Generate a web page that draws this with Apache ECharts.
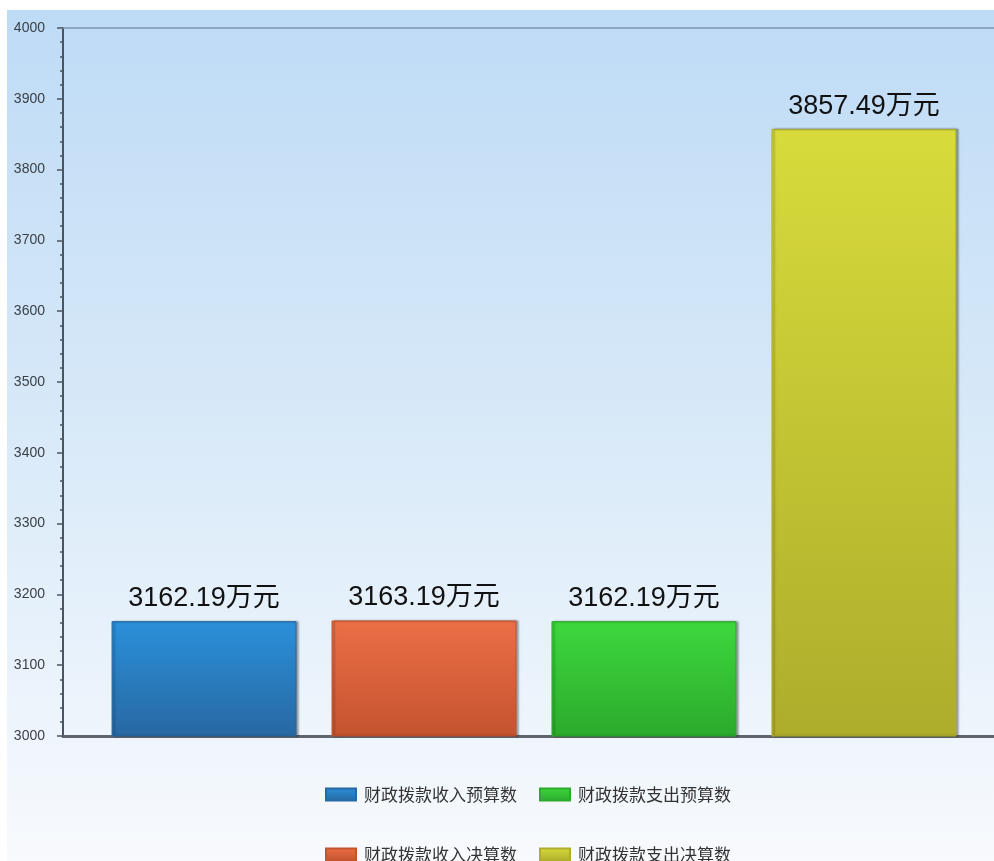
<!DOCTYPE html>
<html>
<head>
<meta charset="utf-8">
<script src="https://cdn.jsdelivr.net/npm/echarts@6/dist/echarts.min.js"></script>
<style>
  html, body { margin: 0; padding: 0; background: #fff; overflow: hidden; }
  /* 图表比窗口略宽，右侧被裁掉，与原图一致 */
  #chart { width: 1005px; height: 861px; }
</style>
</head>
<body>
<div id="chart"></div>
<script>
// 数据
const seriesNames = ['财政拨款收入预算数', '财政拨款收入决算数', '财政拨款支出预算数', '财政拨款支出决算数'];
const seriesValues = [3162.19, 3163.19, 3162.19, 3857.49];
const yTicks = { min: 3000, max: 4000, interval: 100 };
// 顶部颜色 / 底部颜色
const barTopColors = ['#2b90da', '#ec6f46', '#3dd83d', '#d8db3b'];
const barBottomColors = ['#2768a2', '#c4532f', '#2caa2c', '#aead2c'];

const chart = echarts.init(document.getElementById('chart'));

function grad(top, bottom) {
  return new echarts.graphic.LinearGradient(0, 0, 0, 1, [
    { offset: 0, color: top },
    { offset: 1, color: bottom }
  ]);
}

const series = seriesNames.map((name, i) => ({
  name: name,
  type: 'bar',
  data: [seriesValues[i]],
  barWidth: 185,
  barGap: '18.9%',
  itemStyle: {
    color: grad(barTopColors[i], barBottomColors[i]),
    borderColor: barBottomColors[i],
    borderWidth: 1,
    shadowColor: 'rgba(0,0,0,0.35)',
    shadowBlur: 2,
    shadowOffsetX: 2
  },
  label: {
    show: true,
    position: 'top',
    distance: 9,
    formatter: '{c}万元',
    fontSize: 27,
    color: '#111',
    fontFamily: 'Liberation Sans, "Noto Sans CJK SC", sans-serif'
  }
}));

const legendText = {
  fontSize: 17,
  color: '#333',
  fontFamily: '"Noto Sans CJK SC", sans-serif',
  padding: [0, 0, 0, 3]
};

const option = {
  animation: false,
  graphic: [{
    type: 'rect',
    z: -10,
    silent: true,
    shape: { x: 7, y: 10, width: 998, height: 851 },
    style: {
      fill: new echarts.graphic.LinearGradient(0, 0, 0, 1, [
        { offset: 0, color: '#bedbf6' },
        { offset: 0.45, color: '#d6e8f8' },
        { offset: 0.85, color: '#eef5fc' },
        { offset: 1, color: '#f8fafd' }
      ])
    }
  }],
  grid: { left: 63, right: 0, top: 28, bottom: 125 },
  legend: [
    {
      data: [seriesNames[0], seriesNames[2]],
      left: 325, top: 786, padding: 0,
      itemWidth: 30, itemHeight: 12, itemGap: 22,
      icon: 'rect',
      textStyle: legendText
    },
    {
      data: [seriesNames[1], seriesNames[3]],
      left: 325, top: 846, padding: 0,
      itemWidth: 30, itemHeight: 12, itemGap: 22,
      icon: 'rect',
      textStyle: legendText
    }
  ],
  xAxis: [
    {
      type: 'category',
      data: [''],
      position: 'bottom',
      axisLine: { show: true, lineStyle: { color: '#5f656b', width: 3 } },
      axisTick: { show: false },
      axisLabel: { show: false }
    },
    {
      type: 'category',
      data: [''],
      position: 'top',
      axisLine: { show: true, lineStyle: { color: '#7d97ad', width: 1.5 } },
      axisTick: { show: false },
      axisLabel: { show: false }
    }
  ],
  yAxis: {
    type: 'value',
    min: yTicks.min,
    max: yTicks.max,
    interval: yTicks.interval,
    axisLine: { show: true, lineStyle: { color: '#4a5561', width: 2 } },
    axisTick: { show: true, length: 6, lineStyle: { color: '#4a5561', width: 1.5 } },
    minorTick: { show: true, splitNumber: 5, length: 3, lineStyle: { color: '#4a5561', width: 1.5 } },
    splitLine: { show: false },
    axisLabel: {
      fontSize: 14,
      color: '#3a3f44',
      margin: 18,
      fontFamily: 'Liberation Sans, sans-serif',
      formatter: v => String(v)
    }
  },
  series: series
};

chart.setOption(option);
</script>
</body>
</html>
